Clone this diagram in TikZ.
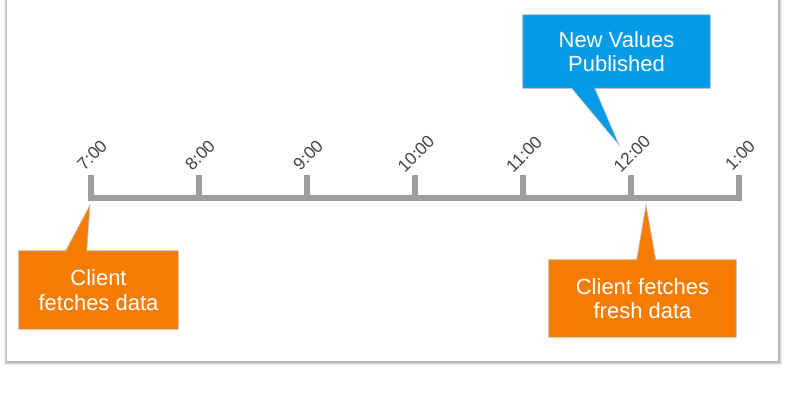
\documentclass[tikz,border=0pt]{standalone}
\usepackage{fontspec}
\setmainfont{Liberation Sans}
\usetikzlibrary{calc,backgrounds}

\definecolor{calloutorange}{HTML}{F57C00}
\definecolor{calloutblue}{HTML}{039BE5}
\definecolor{axisgray}{HTML}{9E9E9E}
\definecolor{labelgray}{HTML}{424242}
\definecolor{edgegray}{HTML}{BDBDBD}

\tikzset{
  axisline/.style={axisgray, line width=4.5pt},
  ticklabel/.style={labelgray, rotate=45, font=\fontsize{13}{15}\selectfont, inner sep=0pt},
  calltext/.style={white, align=center, inner sep=0pt, font=\fontsize{16.5}{18.5}\selectfont},
  orangecall/.style={fill=calloutorange, draw=edgegray, line width=0.5pt},
  bluecall/.style={fill=calloutblue, draw=edgegray, line width=0.5pt}
}

\begin{document}
\begin{tikzpicture}[x=0.75pt, y=-0.75pt]
  \useasboundingbox (0,0) rectangle (800,400);
  % Card with shadow
  \begin{scope}[on background layer]
    \fill[black!8] (4,-10) rectangle (781.5,364.5);
    \fill[black!16] (5,-10) rectangle (780.5,363.5);
    \fill[black!28] (6,-10) rectangle (779.5,362.5);
    \fill[white] (7,-10) rectangle (778,361);
  \end{scope}

  % Tick tops
  \coordinate (t7) at (91,175);
  \coordinate (t8) at (199,175);
  \coordinate (t9) at (307,175);
  \coordinate (t10) at (415,175);
  \coordinate (t11) at (523,175);
  \coordinate (t12) at (631,175);
  \coordinate (t1) at (739,175);

  % Draw timeline
  \draw[axisline] (88,198) -- (742,198);
  \draw[axisline] (t7) -- (t7 |- 0,197);
  \draw[axisline] (t8) -- (t8 |- 0,197);
  \draw[axisline] (t9) -- (t9 |- 0,197);
  \draw[axisline] (t10) -- (t10 |- 0,197);
  \draw[axisline] (t11) -- (t11 |- 0,197);
  \draw[axisline] (t12) -- (t12 |- 0,197);
  \draw[axisline] (t1) -- (t1 |- 0,197);

  % Draw hour labels
  \node[ticklabel] (l7) at (92,155) {7:00};
  \node[ticklabel] (l8) at (200,155) {8:00};
  \node[ticklabel] (l9) at (308,155) {9:00};
  \node[ticklabel] (l10) at (416,154) {10:00};
  \node[ticklabel] (l11) at (524,154) {11:00};
  \node[ticklabel] (l12) at (632,154) {12:00};
  \node[ticklabel] (l1) at (740,155) {1:00};

  % Pointer tips
  \coordinate (tipfetch) at (90,205);
  \coordinate (tipfresh) at (646,205);
  \coordinate (tippub) at (619,145);

  % Callout texts
  \node[calltext, minimum width=119.25pt, minimum height=58.5pt] (fetch) at (98.5,290) {Client\\fetches data};
  \node[calltext, minimum width=140.25pt, minimum height=57.75pt] (fresh) at (642.5,298.5) {Client fetches\\fresh data};
  \node[calltext, minimum width=140.25pt, minimum height=54.75pt] (pub) at (616.5,51.5) {New Values\\Published};

  % Callout shapes
  \begin{scope}[on background layer]
    \draw[orangecall] (fetch.south west) -- (fetch.north west) -- ($(fetch.north west)+(47,0)$)
      -- (tipfetch) -- ($(fetch.north west)+(68,0)$) -- (fetch.north east) -- (fetch.south east) -- cycle;
    \draw[orangecall] (fresh.south west) -- (fresh.north west) -- ($(fresh.north west)+(88,0)$)
      -- (tipfresh) -- ($(fresh.north west)+(107,0)$) -- (fresh.north east) -- (fresh.south east) -- cycle;
    \draw[bluecall] (pub.north west) -- (pub.north east) -- (pub.south east) -- ($(pub.south west)+(72,0)$)
      -- (tippub) -- ($(pub.south west)+(49,0)$) -- (pub.south west) -- cycle;
  \end{scope}
\end{tikzpicture}
\end{document}
